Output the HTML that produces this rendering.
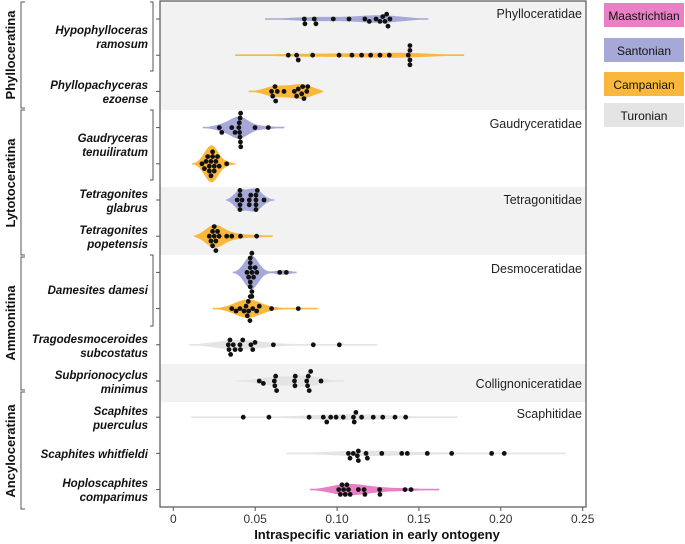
<!DOCTYPE html>
<html><head><meta charset="utf-8">
<style>
html,body{margin:0;padding:0;background:#fff;}
svg{display:block;font-family:"Liberation Sans",sans-serif;}
</style></head>
<body>
<svg id="chart" width="685" height="544" viewBox="0 0 685 544">
  <rect x="160" y="110" width="426" height="77" fill="#fff"/>
  <rect x="160" y="1" width="426" height="109" fill="#f2f2f2"/>
  <rect x="160" y="187" width="426" height="68" fill="#f2f2f2"/>
  <rect x="160" y="364" width="426" height="38" fill="#f2f2f2"/>
  <g id="violins"></g>
  <g id="dots"></g>
  <rect x="160" y="1" width="426" height="506" fill="none" stroke="#555" stroke-width="1.2"/>
  <g font-size="12.5" fill="#222" text-anchor="end">
    <text x="582" y="18">Phylloceratidae</text>
    <text x="582" y="128">Gaudryceratidae</text>
    <text x="582" y="204">Tetragonitidae</text>
    <text x="582" y="273">Desmoceratidae</text>
    <text x="582" y="388">Collignoniceratidae</text>
    <text x="582" y="418">Scaphitidae</text>
  </g>
  <g id="axis"></g>
  <text x="377" y="539" font-size="13" font-weight="bold" text-anchor="middle" fill="#111">Intraspecific variation in early ontogeny</text>
  <g id="ylabels"></g>
  <g stroke="#555" stroke-width="1" fill="none">
    <path d="M25,2 H21 V108 H25"/>
    <path d="M25,110 H21 V255 H25"/>
    <path d="M25,257 H21 V390 H25"/>
    <path d="M25,392 H21 V509 H25"/>
    <path d="M150,2 H153 V71 H150"/>
    <path d="M150,110 H153 V180 H150"/>
    <path d="M150,255 H153 V326 H150"/>
  </g>
  <g font-size="13" font-weight="bold" fill="#111" text-anchor="middle">
    <text transform="translate(15,55) rotate(-90)">Phylloceratina</text>
    <text transform="translate(15,183) rotate(-90)">Lytotoceratina</text>
    <text transform="translate(15,323) rotate(-90)">Ammonitina</text>
    <text transform="translate(15,451) rotate(-90)">Ancyloceratina</text>
  </g>
  <g font-size="12" fill="#111" text-anchor="middle">
    <rect x="604" y="3" width="80" height="24" fill="#e97fc4"/>
    <text x="644" y="20">Maastrichtian</text>
    <rect x="604" y="38" width="80" height="24" fill="#a6a8d8"/>
    <text x="644" y="55">Santonian</text>
    <rect x="604" y="72" width="80" height="24" fill="#f9b73b"/>
    <text x="644" y="89">Campanian</text>
    <rect x="604" y="103" width="80" height="24" fill="#e4e4e4"/>
    <text x="644" y="120">Turonian</text>
  </g>
</svg>
<script>
const rowLabels = [["Hypophylloceras","ramosum"],null,["Phyllopachyceras","ezoense"],["Gaudryceras","tenuiliratum"],null,["Tetragonites","glabrus"],["Tetragonites","popetensis"],["Damesites damesi"],null,["Tragodesmoceroides","subcostatus"],["Subprionocyclus","minimus"],["Scaphites","puerculus"],["Scaphites whitfieldi"],["Hoploscaphites","comparimus"]];
const rowLabelY = [37,null,92,145,null,201,237,290,null,346,382,418,454,490];
const rowPeriods = ["Santonian","Campanian","Campanian","Santonian","Campanian","Santonian","Campanian","Santonian","Campanian","Turonian","Turonian","Turonian","Turonian","Maastrichtian"];
const rowMin = [0.056,0.0378,0.046,0.018,0.0116,0.0322,0.0128,0.0363,0.024,0.0096,0.0387,0.0108,0.0692,0.0835];
const rowMax = [0.1557,0.1776,0.0915,0.0678,0.0377,0.0617,0.0607,0.0753,0.0882,0.1248,0.1042,0.1737,0.2398,0.1624];
const v0 = [0.080,0.0804,0.0861,0.0871,0.0977,0.1073,0.117,0.1197,0.1238,0.1262,0.1279,0.1293,0.1303,0.1311,0.1323];
const v1 = [0.0702,0.0753,0.0763,0.0851,0.1012,0.1091,0.115,0.1205,0.1262,0.1319,0.1435,0.1445,0.1445,0.1445,0.1445];
const v2 = [0.060,0.0607,0.0621,0.0625,0.0635,0.0676,0.0739,0.0753,0.0763,0.0784,0.0790,0.0798,0.0815,0.0821];
const v3 = [0.0281,0.0296,0.0357,0.0377,0.040,0.0403,0.0405,0.0407,0.0408,0.041,0.0411,0.0412,0.0499,0.058];
const v4 = [0.0175,0.019,0.020,0.021,0.022,0.022,0.023,0.023,0.024,0.024,0.025,0.025,0.026,0.027,0.028,0.0326];
const v5 = [0.039,0.0407,0.0407,0.0407,0.0407,0.042,0.0464,0.0464,0.0473,0.0505,0.0505,0.0505,0.0505,0.0513,0.0554];
const v6 = [0.022,0.023,0.024,0.024,0.025,0.025,0.026,0.026,0.027,0.028,0.0326,0.0357,0.041,0.0509];
const v7 = [0.045,0.046,0.047,0.047,0.047,0.047,0.047,0.048,0.048,0.048,0.048,0.049,0.050,0.051,0.065,0.069];
const v8 = [0.0357,0.0383,0.0407,0.0432,0.0444,0.0452,0.0458,0.046,0.047,0.0468,0.0485,0.0509,0.0525,0.060,0.0763];
const v9 = [0.0336,0.034,0.0346,0.035,0.0366,0.0377,0.0407,0.041,0.0424,0.0474,0.0485,0.0499,0.0611,0.0855,0.1014];
const v10 = [0.0525,0.055,0.0617,0.062,0.0625,0.0631,0.074,0.0743,0.0745,0.0815,0.082,0.0824,0.083,0.0839,0.0902];
const v11 = [0.0427,0.0584,0.0829,0.0916,0.0937,0.0961,0.0994,0.1038,0.1105,0.110,0.1115,0.115,0.1221,0.1279,0.1354,0.1419];
const v12 = [0.1069,0.1079,0.1099,0.1124,0.113,0.113,0.1177,0.1185,0.1273,0.1395,0.1429,0.1551,0.170,0.1944,0.2021];
const v13 = [0.101,0.102,0.103,0.104,0.105,0.106,0.107,0.108,0.113,0.1165,0.117,0.126,0.1262,0.1415,0.1452];
const rowValues = [v0,v1,v2,v3,v4,v5,v6,v7,v8,v9,v10,v11,v12,v13];
const xTicks = [0,0.05,0.10,0.15,0.20,0.25];
const xTickLabels = ["0","0.05","0.10","0.15","0.20","0.25"];

const NS = "http://www.w3.org/2000/svg";
const periodColor = {Maastrichtian:"#e97fc4",Santonian:"#a6a8d8",Campanian:"#f9b73b",Turonian:"#e4e4e4"};
const X0 = 173.3, X1 = 582.7;
function xScale(v){ return X0 + (v - 0) / (0.25 - 0) * (X1 - X0); }
function yRow(i){ return 19 + i * 36.2; }
function mk(tag, attrs, parent){ const e = document.createElementNS(NS, tag); for (const k in attrs) e.setAttribute(k, attrs[k]); parent.appendChild(e); return e; }

// KDE
const dens = [];
let gmax = 0;
rowValues.forEach((vals, i) => {
  const dmin = Math.min(...vals), dmax = Math.max(...vals);
  let bw = ((rowMax[i] - rowMin[i]) - (dmax - dmin)) / 6;
  if (bw <= 0) bw = 0.003;
  bw *= 1.6;
  const pts = [];
  const N = 120;
  for (let k = 0; k <= N; k++) {
    const x = rowMin[i] + (rowMax[i] - rowMin[i]) * k / N;
    let s = 0;
    vals.forEach(v => { const z = (x - v) / bw; s += Math.exp(-0.5 * z * z); });
    s /= vals.length * bw * Math.sqrt(2 * Math.PI);
    pts.push([x, s]);
    if (s > gmax) gmax = s;
  }
  dens.push(pts);
});
const vg = document.getElementById("violins");
const HALF = 18.5;
dens.forEach((pts, i) => {
  const cy = yRow(i);
  const taper = k => { const n = pts.length - 1; const e = Math.min(k, n - k) / 6; return Math.min(1, 0.25 + e); };
  let d = "";
  pts.forEach((p, k) => { d += (k ? "L" : "M") + xScale(p[0]).toFixed(2) + "," + (cy - Math.max(p[1] / gmax * HALF * taper(k), 0.8)).toFixed(2); });
  for (let k = pts.length - 1; k >= 0; k--) d += "L" + xScale(pts[k][0]).toFixed(2) + "," + (cy + Math.max(pts[k][1] / gmax * HALF * taper(k), 0.8)).toFixed(2);
  d += "Z";
  const p = mk("path", {d: d, fill: periodColor[rowPeriods[i]]}, vg);
  
  
});
// beeswarm dots
const dg = document.getElementById("dots");
const R = 2.4;
rowValues.forEach((vals, i) => {
  const cy = yRow(i);
  const sorted = vals.slice().sort((a, b) => a - b);
  const placed = [];
  sorted.forEach(v => {
    const x = xScale(v);
    let off = 0;
    const cands = [0];
    for (let s = 1; s < 12; s++) { cands.push(s * 2.4); cands.push(-s * 2.4); }
    for (const c of cands) {
      if (placed.every(p => Math.hypot(p[0] - x, p[1] - c) >= 2 * R * 0.95)) { off = c; break; }
    }
    placed.push([x, off]);
    const c = mk("circle", {cx: x.toFixed(2), cy: (cy + off).toFixed(2), r: R, fill: "#111"}, dg);
    
    
  });
});
// axis
const ag = document.getElementById("axis");
xTicks.forEach((t, k) => {
  const x = xScale(t);
  const l = mk("line", {x1: x, x2: x, y1: 507, y2: 511, stroke: "#555"}, ag);
  
  
  const tx = mk("text", {x: x, y: 523, "font-size": 12, "text-anchor": "middle", fill: "#333"}, ag);
  tx.textContent = xTickLabels[k];
  
  
});
// y labels and ticks
const yg = document.getElementById("ylabels");
rowValues.forEach((v, i) => {
  const y = yRow(i);
  const l = mk("line", {x1: 156, x2: 160, y1: y, y2: y, stroke: "#555"}, yg);
  
  
});
rowLabels.forEach((lab, i) => {
  if (!lab) return;
  const y = rowLabelY[i];
  const t = mk("text", {x: 148, "font-size": 11.5, "font-weight": "bold", "font-style": "italic", "text-anchor": "end", fill: "#111"}, yg);
  
  
  if (lab.length === 1) {
    t.setAttribute("y", y + 4);
    t.textContent = lab[0];
  } else {
    const a = mk("tspan", {x: 148, y: y - 3}, t); a.textContent = lab[0];
    const b = mk("tspan", {x: 148, y: y + 11}, t); b.textContent = lab[1];
  }
});
</script>
</body></html>
